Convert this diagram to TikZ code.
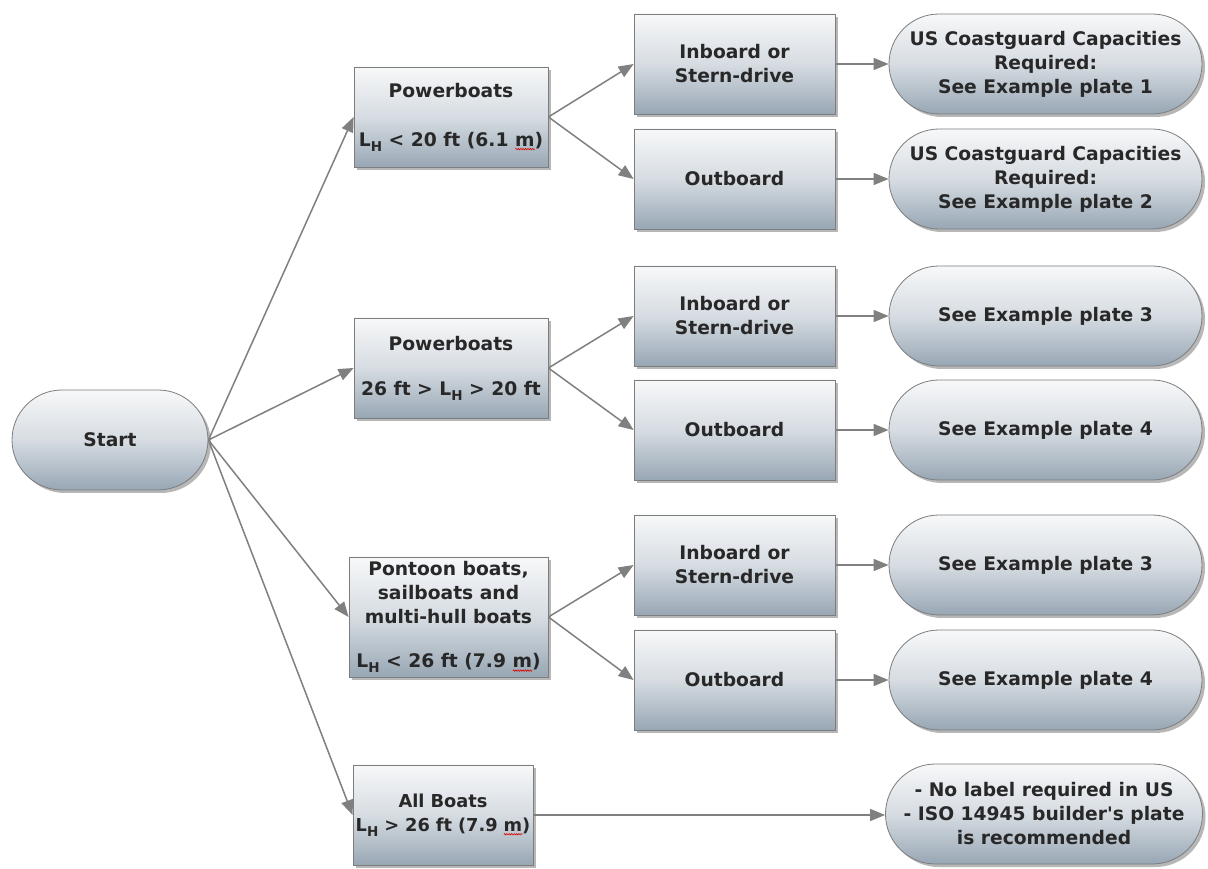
\documentclass[tikz,border=0pt]{standalone}
\usepackage{fontspec}
\setmainfont{DejaVu Sans}
\usetikzlibrary{shapes.misc,shadows,arrows.meta,decorations.pathmorphing}
\definecolor{txt}{RGB}{40,40,40}
\definecolor{gtop}{RGB}{247,248,249}
\definecolor{gmid}{RGB}{214,220,226}
\definecolor{gbot}{RGB}{152,167,180}
\definecolor{edgec}{RGB}{125,125,125}
\definecolor{arrc}{RGB}{128,128,128}
\newcommand{\LH}{L\raisebox{-5pt}{\fontsize{13.5}{14}\selectfont H}}
\newcommand{\squote}{{\XeTeXglyph\XeTeXglyphindex "quotesingle"\relax}}
\newsavebox\wvbox
\newcommand{\wavym}[1]{\sbox\wvbox{#1}\rlap{\tikz[baseline=0pt]{\draw[red!85!black,line width=0.6pt,decorate,decoration={zigzag,amplitude=0.7pt,segment length=2.4pt}] (0pt,-3pt) -- (\the\wd\wvbox,-3pt);}}\usebox\wvbox}
\tikzset{
  base/.style={draw=edgec, line width=0.8pt, top color=gtop, bottom color=gbot, middle color=gmid,
    drop shadow={shadow xshift=3pt,shadow yshift=-3pt,opacity=0.4,fill=black!70},
    text=txt, font=\bfseries\fontsize{18.7}{24}\selectfont, align=center, inner sep=2pt},
  box/.style={base, rectangle, minimum width=194pt, minimum height=100pt},
  optbox/.style={base, rectangle, minimum width=201pt, minimum height=100pt},
  pill/.style={base, rounded rectangle, minimum width=317pt, minimum height=100pt},
  conn/.style={draw=arrc, line width=1.5pt, -{Triangle[length=15pt,width=12pt]}},
}
\begin{document}
\begin{tikzpicture}[x=1pt,y=1pt]
\useasboundingbox[fill=white] (0,0) rectangle (1208,868);
% column 1
\node[pill, minimum width=200pt] (start) at (110,428) {Start};
% column 2
\node[box] (p1) at (451,751) {Powerboats\\[25pt]\LH{} < 20 ft (6.1 \wavym{m})};
\node[box] (p2) at (451,500) {Powerboats\\[21pt]26 ft > \LH{} > 20 ft};
\node[box, minimum width=199pt, minimum height=120pt] (pt) at (448.5,251) {Pontoon boats,\\sailboats and\\multi-hull boats\\[20pt]\LH{} < 26 ft (7.9 \wavym{m})};
\node[box, minimum width=180pt, text width=176pt, inner sep=2pt, font=\bfseries\fontsize{17.8}{24}\selectfont] (ab) at (443,53) {All Boats\\\LH{} > 26 ft (7.9 \wavym{m})};
% column 3
\node[optbox] (i1) at (734.5,804) {Inboard or\\Stern-drive};
\node[optbox] (o1) at (734.5,689) {Outboard};
\node[optbox] (i2) at (734.5,552) {Inboard or\\Stern-drive};
\node[optbox] (o2) at (734.5,438) {Outboard};
\node[optbox] (i3) at (734.5,303) {Inboard or\\Stern-drive};
\node[optbox] (o3) at (734.5,188) {Outboard};
% column 4
\node[pill] (t1) at (1045.5,804) {US Coastguard Capacities\\Required:\\See Example plate 1};
\node[pill] (t2) at (1045.5,689) {US Coastguard Capacities\\Required:\\See Example plate 2};
\node[pill] (t3) at (1045.5,552) {See Example plate 3};
\node[pill] (t4) at (1045.5,438) {See Example plate 4};
\node[pill] (t5) at (1045.5,303) {See Example plate 3};
\node[pill] (t6) at (1045.5,188) {See Example plate 4};
\node[pill, minimum width=321pt] (t7) at (1044,54) {- No label required in US\\- ISO 14945 builder\squote s plate\\is recommended};
% connectors
\draw[conn] (start.east) -- (p1.west);
\draw[conn] (start.east) -- (p2.west);
\draw[conn] (start.east) -- (pt.west);
\draw[conn] (start.east) -- (ab.west);
\draw[conn] (p1.east) -- (i1.west);
\draw[conn] (p1.east) -- (o1.west);
\draw[conn] (p2.east) -- (i2.west);
\draw[conn] (p2.east) -- (o2.west);
\draw[conn] (pt.east) -- (i3.west);
\draw[conn] (pt.east) -- (o3.west);
\draw[conn] (i1.east) -- (t1.west);
\draw[conn] (o1.east) -- (t2.west);
\draw[conn] (i2.east) -- (t3.west);
\draw[conn] (o2.east) -- (t4.west);
\draw[conn] (i3.east) -- (t5.west);
\draw[conn] (o3.east) -- (t6.west);
\draw[conn] (ab.east) -- (ab.east -| t7.west);
\end{tikzpicture}
\end{document}
